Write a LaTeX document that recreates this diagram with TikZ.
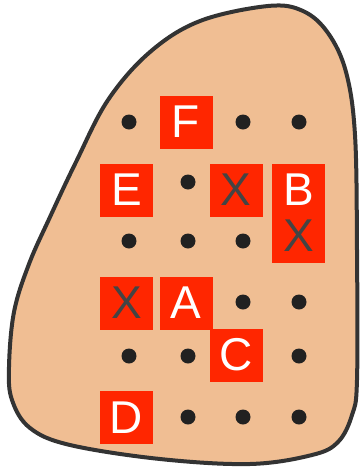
\documentclass[tikz,border=0pt]{standalone}
\usepackage{fontspec}
\setmainfont{Liberation Sans}
\definecolor{skin}{HTML}{F0BE93}
\definecolor{rim}{HTML}{333333}
\definecolor{tag}{HTML}{FF2600}
\definecolor{cross}{HTML}{444444}
\begin{document}
\begin{tikzpicture}[x=1pt, y=-1pt,
  letter/.style={fill=tag, text=white, minimum size=53pt, inner sep=0pt,
    font=\fontsize{46}{46}\selectfont},
  miss/.style={letter, text=cross},
  pin/.style={circle, fill=black!87, minimum size=15pt, inner sep=0pt}]
\useasboundingbox (0,0) rectangle (364,472);
% outline
\draw[rim, line width=4pt, fill=skin] plot[smooth cycle, tension=0.6] coordinates {
  (9,367) (14,312) (29,264) (50,217) (76,162) (108,100) (150,52) (200,21)
  (268,6) (303,11) (328,33) (346,72) (355,135) (357,250) (357,380)
  (352,415) (338,442) (312,455) (250,464) (160,459) (70,445) (30,428) (12,400)};
% pins
\node[pin] (p11) at (129,122) {};
\node[pin] (p13) at (243,122) {};
\node[pin] (p14) at (299,122) {};
\node[pin] (p22) at (188,182) {};
\node[pin] (p31) at (129,241) {};
\node[pin] (p32) at (188,241) {};
\node[pin] (p33) at (243,241) {};
\node[pin] (p43) at (243,302) {};
\node[pin] (p44) at (299,302) {};
\node[pin] (p51) at (129,356) {};
\node[pin] (p52) at (188,356) {};
\node[pin] (p54) at (299,356) {};
\node[pin] (p62) at (188,417) {};
\node[pin] (p63) at (243,417) {};
\node[pin] (p64) at (299,417) {};
% letters
\node[letter] (F) at (186,122) {F};
\node[letter] (E) at (126.5,190) {E};
\node[miss] (x1) at (236,190) {X};
\node[miss] (x2) at (298.5,236) {X};
\node[letter] (B) at (298.5,190) {B};
\node[miss] (x3) at (126.5,303) {X};
\node[letter] (A) at (186,303) {A};
\node[letter] (C) at (236,355) {C};
\node[letter] (D) at (126.5,417.5) {D};
\end{tikzpicture}
\end{document}
